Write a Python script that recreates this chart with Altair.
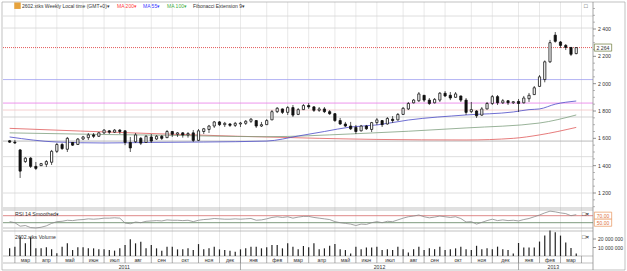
import altair as alt
import pandas as pd

# ------------------------------------------------------------------ data
FIRST_BAR = "2011-02-28"          # weekly bars
opens = [1582, 1572, 1515, 1430, 1455, 1395, 1400, 1410, 1425, 1505,
         1555, 1520, 1570, 1555, 1595, 1605, 1625, 1615, 1640, 1655,
         1645, 1660, 1655, 1570, 1575, 1600, 1570, 1610, 1595, 1615,
         1605, 1650, 1630, 1640, 1625, 1640, 1585, 1650, 1665, 1690,
         1720, 1700, 1705, 1695, 1705, 1710, 1725, 1730, 1690, 1700,
         1735, 1795, 1815, 1790, 1825, 1775, 1810, 1840, 1830, 1805,
         1815, 1795, 1780, 1730, 1705, 1690, 1680, 1655, 1690, 1665,
         1715, 1730, 1705, 1740, 1735, 1775, 1815, 1860, 1875, 1915,
         1880, 1860, 1880, 1930, 1915, 1900, 1910, 1880, 1795, 1800,
         1770, 1815, 1855, 1905, 1860, 1875, 1860, 1870, 1860, 1890,
         1920, 1980, 2030, 2160, 2355, 2305, 2280, 2265, 2220]
highs = [1588, 1588, 1522, 1463, 1463, 1427, 1420, 1441, 1515, 1566,
         1566, 1610, 1573, 1602, 1617, 1639, 1639, 1646, 1668, 1661,
         1668, 1668, 1660, 1610, 1639, 1610, 1624, 1632, 1624, 1624,
         1661, 1654, 1646, 1646, 1646, 1661, 1668, 1676, 1698, 1727,
         1727, 1720, 1712, 1720, 1720, 1734, 1749, 1734, 1720, 1741,
         1807, 1829, 1818, 1836, 1844, 1822, 1851, 1858, 1836, 1829,
         1829, 1807, 1785, 1749, 1720, 1720, 1698, 1698, 1698, 1720,
         1749, 1734, 1756, 1763, 1785, 1829, 1866, 1888, 1939, 1917,
         1895, 1895, 1939, 1946, 1939, 1939, 1912, 1895, 1866, 1807,
         1829, 1866, 1917, 1917, 1888, 1880, 1873, 1888, 1910, 1932,
         1983, 2063, 2170, 2320, 2378, 2312, 2290, 2268, 2268]
lows = [1566, 1559, 1310, 1420, 1383, 1368, 1398, 1390, 1405, 1493,
        1515, 1500, 1544, 1551, 1588, 1588, 1602, 1610, 1632, 1632,
        1639, 1632, 1550, 1500, 1566, 1551, 1566, 1566, 1588, 1588,
        1602, 1610, 1610, 1605, 1605, 1573, 1580, 1632, 1639, 1676,
        1690, 1683, 1683, 1683, 1683, 1698, 1712, 1676, 1683, 1698,
        1734, 1785, 1778, 1771, 1756, 1770, 1807, 1815, 1793, 1793,
        1785, 1771, 1720, 1698, 1683, 1661, 1632, 1650, 1661, 1646,
        1698, 1683, 1700, 1712, 1730, 1771, 1807, 1855, 1866, 1866,
        1844, 1855, 1866, 1902, 1880, 1895, 1866, 1771, 1785, 1749,
        1765, 1812, 1844, 1844, 1851, 1844, 1851, 1793, 1855, 1866,
        1917, 1976, 2010, 2151, 2300, 2261, 2246, 2202, 2215]
closes = [1572, 1566, 1360, 1455, 1395, 1380, 1415, 1430, 1505, 1555,
          1525, 1600, 1550, 1595, 1610, 1625, 1615, 1640, 1660, 1645,
          1660, 1650, 1570, 1530, 1625, 1565, 1615, 1580, 1615, 1600,
          1650, 1630, 1640, 1625, 1635, 1585, 1655, 1670, 1690, 1720,
          1700, 1710, 1695, 1710, 1712, 1725, 1740, 1690, 1700, 1730,
          1795, 1820, 1790, 1825, 1770, 1810, 1840, 1830, 1805, 1815,
          1795, 1780, 1730, 1705, 1690, 1670, 1650, 1690, 1670, 1715,
          1735, 1700, 1745, 1730, 1775, 1820, 1855, 1880, 1925, 1880,
          1855, 1885, 1930, 1910, 1895, 1925, 1880, 1790, 1810, 1765,
          1815, 1855, 1905, 1860, 1875, 1860, 1868, 1855, 1895, 1915,
          1970, 2050, 2160, 2300, 2310, 2280, 2265, 2215, 2264]
volume_mln = [9, 11, 22.7, 14.9, 22, 9, 9, 10.2, 7.8, 3.1,
              11, 14.9, 7, 10.2, 10.2, 9, 9, 7.8, 7.8, 7,
              6.3, 9, 13, 19.6, 14.9, 16.9, 9, 13, 9, 6.3,
              11, 11, 7.8, 7.8, 9, 7, 14, 7.8, 9, 11,
              7.8, 7, 6.3, 5.1, 7.8, 9, 11, 11, 9, 10.2,
              13, 13, 9, 14.9, 11, 7.8, 11.8, 10.2, 14.9, 7.8,
              9, 12, 14, 8, 7, 3, 11, 8, 10, 10,
              11, 7, 8, 7, 11, 8, 4, 8, 11, 7,
              9, 8, 11, 7, 8, 9, 11, 8, 7, 12,
              8, 9, 8, 11, 8, 7, 3, 15.3, 10, 10,
              10, 17, 24, 30, 28, 24, 16, 9.3, 3]
rsi14 = [53, 50, 40, 42, 36, 35, 37, 41, 48, 53,
         54, 57, 56, 58, 59, 61, 60, 61, 63, 63,
         64, 63, 49, 47, 52, 50, 54, 55, 56, 55,
         58, 57, 57, 56, 57, 53, 57, 59, 60, 62,
         61, 60, 60, 61, 60, 61, 62, 57, 58, 61,
         65, 67, 65, 67, 63, 66, 68, 68, 65, 63,
         61, 59, 53, 50, 48, 46, 42, 46, 45, 50,
         53, 50, 54, 53, 58, 63, 67, 69, 72, 67,
         64, 66, 69, 67, 65, 67, 62, 52, 53, 46,
         51, 56, 60, 56, 58, 56, 57, 55, 59, 62,
         67, 72, 78, 83, 81, 78, 76, 70, 73]

# moving averages read at selected bars (bar index -> value)
ma55_bar = [0, 9, 18, 27, 37, 49, 55, 60, 65, 70, 76, 87, 96, 99, 101, 104, 108]
ma55_val = [1610, 1573, 1566, 1570, 1573, 1580, 1617, 1650, 1683, 1698, 1734, 1771, 1793, 1810, 1815, 1850, 1873]
ma100_bar = [0, 18, 27, 49, 65, 87, 101, 108]
ma100_val = [1640, 1628, 1624, 1612, 1632, 1676, 1712, 1771]
ma200_bar = [0, 27, 59, 70, 87, 96, 101, 108]
ma200_val = [1673, 1635, 1600, 1592, 1588, 1600, 1625, 1680]

fib_levels = [2495, 2407, 2030, 1858, 1807, 1756, 1580, 1466, 1393, 1200]
price_ticks = [1200, 1400, 1600, 1800, 2000, 2200, 2400]
price_tick_labels = ["1 200", "1 400", "1 600", "1 800", "2 000", "2 200", "2 400"]
price_minor_ticks = [1100, 1150, 1250, 1300, 1350, 1450, 1500, 1550, 1650, 1700, 1750,
                     1850, 1900, 1950, 2050, 2100, 2150, 2250, 2300, 2350, 2450, 2500, 2550]
volume_ticks_mln = [10, 20]
volume_tick_labels = ["10 000 000", "20 000 000"]
rsi_levels = [70, 50]
rsi_level_labels = ["70.00", "50.00"]
month_names = ["янв", "фев", "мар", "апр", "май", "июн",
               "июл", "авг", "сен", "окт", "ноя", "дек"]

# ------------------------------------------------------------------ layout
W, H = 590, 268
FONT = "Liberation Sans"
PX_PER_DAY = 0.7624
MAIN_BOTTOM = 206
Y2400, Y1200 = 27, 191

dates = pd.date_range(FIRST_BAR, periods=len(closes) + 1, freq="7D")


def to_ms(ts):
    return [int(pd.Timestamp(x).value // 10**6) for x in ts]


bar_t = to_ms(dates[:-1])
bars = pd.DataFrame({"t": bar_t, "o": opens, "h": highs, "l": lows, "c": closes,
                     "vol": volume_mln, "rsi": rsi14})

x_start = dates[1] - pd.Timedelta(days=7.0 / PX_PER_DAY)
x_end = x_start + pd.Timedelta(days=W / PX_PER_DAY)
XS = alt.Scale(domain=to_ms([x_start, x_end]), nice=False, zero=False)


def xenc(field="t"):
    return alt.X(f"{field}:Q", scale=XS, axis=None)


slope = (Y1200 - Y2400) / 1200.0
P_HI = 2400 + Y2400 / slope
P_LO = 2400 - (MAIN_BOTTOM - Y2400) / slope
PRICE = alt.Scale(domain=[P_LO, P_HI], range=[MAIN_BOTTOM, 0], zero=False, nice=False)
RSI = alt.Scale(domain=[50, 70], range=[220.7, 213.7], zero=False, nice=False)
VOL = alt.Scale(domain=[0, 20], range=[254, 237], nice=False)

ds = pd.Series(dates)
new_month = ds.dt.month != ds.shift(1).dt.month
new_month.iloc[0] = False
seps = ds[new_month].reset_index(drop=True)
seps_df = pd.DataFrame({"t": to_ms(seps)})
mlab = pd.DataFrame({
    "t": [(a.value + b.value) // 2 // 10**6 for a, b in zip(seps[:-1], seps[1:])],
    "name": [month_names[a.month - 1] for a in seps[:-1]],
})
ysep = seps[seps.dt.month == 1].reset_index(drop=True)
ysep_df = pd.DataFrame({"t": to_ms(ysep)})
ybounds = [x_start] + list(ysep) + [x_end]
ylab = pd.DataFrame({
    "t": [(a.value + b.value) // 2 // 10**6 for a, b in zip(ybounds[:-1], ybounds[1:])],
    "name": [str(dates[0].year)] + [str(y.year) for y in ysep],
})

one = pd.DataFrame({"k": [0]})


def hline(y, color="#a8a8a8", x1=0, x2=W, width=0.7, dash=None):
    kw = dict(color=color, strokeWidth=width)
    if dash is not None:
        kw["strokeDash"] = dash
    return alt.Chart(one).mark_rule(**kw).encode(x=alt.value(x1), x2=alt.value(x2), y=alt.value(y))


def vline(x, y1, y2, color="#a8a8a8", width=0.7):
    return alt.Chart(one).mark_rule(color=color, strokeWidth=width).encode(
        x=alt.value(x), y=alt.value(y1), y2=alt.value(y2))


def txt(text, x, y, color="#333333", size=5.0, align="left", weight="normal"):
    return alt.Chart(one).mark_text(text=text, color=color, fontSize=size, font=FONT,
                                    align=align, baseline="middle", fontWeight=weight).encode(
        x=alt.value(x), y=alt.value(y))


layers = []

# vertical month grid through all panels
layers.append(alt.Chart(seps_df).mark_rule(color="#dadada", strokeWidth=0.6).encode(
    x=xenc(), y=alt.value(0), y2=alt.value(254)))

# horizontal levels (Fibonacci extension / grid)
level_colors = ["#d6d6d6", "#d6d6d6", "#a0a0f0", "#e878e8", "#f2c4c4",
                "#c8c8c8", "#a8a8a8", "#d6d6d6", "#d6d6d6", "#d6d6d6"]
for lv, col in zip(fib_levels, level_colors):
    layers.append(alt.Chart(pd.DataFrame({"p": [lv]})).mark_rule(stroke=col, strokeWidth=0.8).encode(
        y=alt.Y("p:Q", scale=PRICE, axis=None), x=alt.value(0), x2=alt.value(W)))

# current price dotted line
last_df = pd.DataFrame({"p": [closes[-1]], "lab": [f"{closes[-1]:,}".replace(",", " ")]})
layers.append(alt.Chart(last_df).mark_rule(stroke="#e04848", strokeWidth=0.9, strokeDash=[1, 1]).encode(
    y=alt.Y("p:Q", scale=PRICE, axis=None), x=alt.value(0), x2=alt.value(W)))

# panel separators and frame
for yy in (206, 208, 226, 229, 254, 261):
    layers.append(hline(yy))
layers.append(hline(0, x1=-1, x2=622))
layers.append(hline(268, x1=-1, x2=622))
layers.append(vline(-1, 0, 268))
layers.append(vline(622, 0, 268))
layers.append(vline(590, 0, 268, color="#808080"))

# moving averages
for idx, vals, col in ((ma200_bar, ma200_val, "#e05a5a"),
                       (ma100_bar, ma100_val, "#7fa07f"),
                       (ma55_bar, ma55_val, "#4a4ac8")):
    df = pd.DataFrame({"t": [bar_t[i] for i in idx], "v": vals})
    layers.append(alt.Chart(df).mark_line(stroke=col, strokeWidth=0.8, interpolate="monotone").encode(
        x=xenc(), y=alt.Y("v:Q", scale=PRICE, axis=None)))

# candles
layers.append(alt.Chart(bars).mark_rule(stroke="#111111", strokeWidth=0.7).encode(
    x=xenc(), y=alt.Y("l:Q", scale=PRICE, axis=None), y2="h:Q"))
layers.append(alt.Chart(bars).mark_bar(size=2.2, stroke="#111111", strokeWidth=0.8).encode(
    x=xenc(), y=alt.Y("o:Q", scale=PRICE, axis=None), y2="c:Q",
    fill=alt.condition(alt.datum.c >= alt.datum.o, alt.value("white"), alt.value("#111111"))))

# RSI panel
for lv, col in zip(rsi_levels, ["#d46a6a", "#5c7f5c"]):
    layers.append(alt.Chart(pd.DataFrame({"r": [lv]})).mark_rule(stroke=col, strokeWidth=0.8).encode(
        y=alt.Y("r:Q", scale=RSI, axis=None), x=alt.value(0), x2=alt.value(W)))
layers.append(alt.Chart(bars).mark_line(stroke="#8a8a8a", strokeWidth=0.8).encode(
    x=xenc(), y=alt.Y("rsi:Q", scale=RSI, axis=None)))

# volume
layers.append(alt.Chart(bars).mark_bar(size=1.2, color="#222222").encode(
    x=xenc(), y=alt.Y("vol:Q", scale=VOL, axis=None), y2=alt.datum(0)))

# month / year rows
layers.append(alt.Chart(seps_df).mark_rule(color="#8a8a8a", strokeWidth=0.7).encode(
    x=xenc(), y=alt.value(254), y2=alt.value(261)))
layers.append(alt.Chart(ysep_df).mark_rule(color="#8a8a8a", strokeWidth=0.7).encode(
    x=xenc(), y=alt.value(254), y2=alt.value(268)))
layers.append(alt.Chart(mlab).mark_text(fontSize=5.2, font=FONT, color="#333333", baseline="middle").encode(
    x=xenc(), y=alt.value(257.7), text="name:N"))
layers.append(alt.Chart(ylab).mark_text(fontSize=5.2, font=FONT, color="#333333", baseline="middle").encode(
    x=xenc(), y=alt.value(264.8), text="name:N"))

# right-hand price scale
pm = pd.DataFrame({"p": price_minor_ticks})
layers.append(alt.Chart(pm).mark_rule(color="#888888", strokeWidth=0.6).encode(
    x=alt.value(590), x2=alt.value(592), y=alt.Y("p:Q", scale=PRICE, axis=None)))
pt = pd.DataFrame({"p": price_ticks, "lab": price_tick_labels})
layers.append(alt.Chart(pt).mark_rule(color="#666666", strokeWidth=0.7).encode(
    x=alt.value(590), x2=alt.value(593), y=alt.Y("p:Q", scale=PRICE, axis=None)))
layers.append(alt.Chart(pt).mark_text(align="left", baseline="middle", fontSize=5.2, font=FONT,
                                      color="#333333").encode(
    x=alt.value(595), y=alt.Y("p:Q", scale=PRICE, axis=None), text="lab:N"))

BOX = "M-1,-0.41L1,-0.41L1,0.41L-1,0.41Z"
layers.append(alt.Chart(last_df).mark_point(shape=BOX, size=300, filled=True, fill="white",
                                            stroke="#6b7a3a", strokeWidth=0.7, opacity=1).encode(
    x=alt.value(600), y=alt.Y("p:Q", scale=PRICE, axis=None)))
layers.append(alt.Chart(last_df).mark_text(align="center", baseline="middle", fontSize=5.2, font=FONT,
                                           color="#333333").encode(
    x=alt.value(600), y=alt.Y("p:Q", scale=PRICE, axis=None), text="lab:N"))

# RSI level labels
rl = pd.DataFrame({"r": rsi_levels, "lab": rsi_level_labels})
layers.append(alt.Chart(rl).mark_point(shape=BOX, size=300, filled=True, fill="white",
                                       stroke="#e8945a", strokeWidth=0.7, opacity=1).encode(
    x=alt.value(600), y=alt.Y("r:Q", scale=RSI, axis=None)))
layers.append(alt.Chart(rl).mark_text(align="center", baseline="middle", fontSize=5.0, font=FONT,
                                      color="#e0703a").encode(
    x=alt.value(600), y=alt.Y("r:Q", scale=RSI, axis=None), text="lab:N"))

# volume labels
vl = pd.DataFrame({"v": volume_ticks_mln, "lab": volume_tick_labels})
layers.append(alt.Chart(vl).mark_rule(color="#666666", strokeWidth=0.7).encode(
    x=alt.value(590), x2=alt.value(593), y=alt.Y("v:Q", scale=VOL, axis=None)))
layers.append(alt.Chart(vl).mark_text(align="left", baseline="middle", fontSize=5.0, font=FONT,
                                      color="#333333").encode(
    x=alt.value(595), y=alt.Y("v:Q", scale=VOL, axis=None), text="lab:N"))

# headers
layers.append(alt.Chart(one).mark_point(shape="square", filled=True, color="#e6a23c", size=42, opacity=1).encode(
    x=alt.value(14.5), y=alt.value(3.7)))
layers.append(txt("2602.xtks Weekly Local time (GMT+0)▾", 19, 3.7))
layers.append(txt("MA 200▾", 114, 3.7, color="#ff3b3b"))
layers.append(txt("MA 55▾", 140, 3.7, color="#3b3bff"))
layers.append(txt("MA 100▾", 164, 3.7, color="#3fae3f"))
layers.append(txt("Fibonacci Extension 9▾", 190, 3.7))
layers.append(txt("RSI 14 Smoothed▾", 12, 212, size=5.2))
layers.append(txt("2602.xtks Volume", 12, 234.5, size=5.2))
layers.append(txt("□", 581, 3.5, size=6))
layers.append(txt("□×", 579, 212, size=6, weight="bold"))
layers.append(txt("□×", 579, 235, size=6, weight="bold"))

chart = alt.layer(*layers).resolve_scale(y="independent").properties(
    width=W, height=H,
    autosize=alt.AutoSizeParams(type="none"),
    padding={"left": 3, "top": 2, "right": 34, "bottom": 1},
    background="white",
).configure_view(stroke=None)

chart.save("out.html", embed_options={"renderer": "svg", "actions": False})
